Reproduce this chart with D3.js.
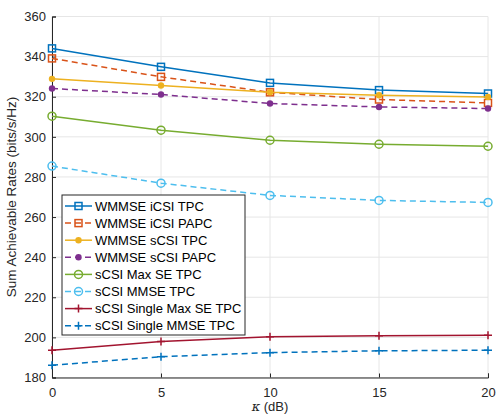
<!DOCTYPE html>
<html><head><meta charset="utf-8">
<script src="https://cdn.jsdelivr.net/npm/d3@7"></script>
<style>body{margin:0;background:#fff}svg{display:block}text{font-family:"Liberation Sans",Arial,sans-serif}</style>
</head><body>
<script>
const kappa = [0, 5, 10, 15, 20];
const seriesNames = ["WMMSE iCSI TPC","WMMSE iCSI PAPC","WMMSE sCSI TPC","WMMSE sCSI PAPC","sCSI Max SE TPC","sCSI MMSE TPC","sCSI Single Max SE TPC","sCSI Single MMSE TPC"];
const wmmseIcsiTpc  = [344.1, 334.9, 326.9, 323.3, 321.6];
const wmmseIcsiPapc = [339.1, 329.9, 322.2, 318.6, 316.9];
const wmmseScsiTpc  = [328.9, 325.6, 322.2, 320.7, 319.9];
const wmmseScsiPapc = [324.1, 321.1, 316.6, 314.9, 314.1];
const scsiMaxSeTpc  = [310.3, 303.3, 298.3, 296.3, 295.3];
const scsiMmseTpc   = [285.4, 276.9, 270.8, 268.3, 267.3];
const scsiSingleMaxSeTpc = [193.6, 197.9, 200.3, 200.8, 201.1];
const scsiSingleMmseTpc  = [186.1, 190.4, 192.4, 193.3, 193.6];
const xTicks = [0, 5, 10, 15, 20];
const yTicks = [180, 200, 220, 240, 260, 280, 300, 320, 340, 360];

const seriesValues = [wmmseIcsiTpc, wmmseIcsiPapc, wmmseScsiTpc, wmmseScsiPapc, scsiMaxSeTpc, scsiMmseTpc, scsiSingleMaxSeTpc, scsiSingleMmseTpc];
const styles = [
  {c:"#0072BD", dash:false, m:"sq"},
  {c:"#D95319", dash:true,  m:"sq"},
  {c:"#EDB120", dash:false, m:"dot"},
  {c:"#7E2F8E", dash:true,  m:"dot"},
  {c:"#77AC30", dash:false, m:"circ"},
  {c:"#4DBEEE", dash:true,  m:"circ"},
  {c:"#A2142F", dash:false, m:"plus"},
  {c:"#0072BD", dash:true,  m:"plus"}
];

const W = 497, H = 418;
const m = {l:52, r:9, t:16.5, b:40.5};
const svg = d3.select("body").append("svg").attr("width", W).attr("height", H);
const x = d3.scaleLinear().domain([0,20]).range([m.l, W - m.r]);
const y = d3.scaleLinear().domain([180,360]).range([H - m.b, m.t]);

// grid
const g = svg.append("g");
g.selectAll(".gx").data(xTicks).enter().append("line")
  .attr("x1", d=>x(d)).attr("x2", d=>x(d)).attr("y1", y(180)).attr("y2", y(360))
  .attr("stroke", "#e6e6e6").attr("stroke-width", 1);
g.selectAll(".gy").data(yTicks).enter().append("line")
  .attr("x1", x(0)).attr("x2", x(20)).attr("y1", d=>y(d)).attr("y2", d=>y(d))
  .attr("stroke", "#e6e6e6").attr("stroke-width", 1);

// axes
const xa = svg.append("g").attr("transform", `translate(0,${y(180)})`)
  .call(d3.axisBottom(x).tickValues(xTicks).tickSize(-4).tickPadding(10));
const ya = svg.append("g").attr("transform", `translate(${x(0)},0)`)
  .call(d3.axisLeft(y).tickValues(yTicks).tickSize(-4).tickPadding(6));
[xa, ya].forEach(a => {
  a.select(".domain").attr("stroke", "#262626").attr("stroke-width", 1);
  a.selectAll(".tick line").attr("stroke", "#262626");
  a.selectAll(".tick text").attr("fill", "#262626").style("font-size", "13px");
});

svg.append("text").attr("x", x(10)).attr("y", 411).attr("text-anchor", "middle")
  .style("font-size", "13px").attr("fill", "#262626")
  .html('<tspan font-style="italic" font-family="DejaVu Serif">κ</tspan> (dB)');
svg.append("text").attr("transform", `translate(16,${y(270)}) rotate(-90)`)
  .attr("text-anchor", "middle").style("font-size", "13.5px").attr("fill", "#262626")
  .text("Sum Achievable Rates (bits/s/Hz)");

function drawMarker(sel, st, cx, cy) {
  if (st.m === "sq") {
    sel.append("rect").attr("x", cx-3.5).attr("y", cy-3.5).attr("width", 7).attr("height", 7)
      .attr("fill", "none").attr("stroke", st.c).attr("stroke-width", 1.5);
  } else if (st.m === "dot") {
    sel.append("circle").attr("cx", cx).attr("cy", cy).attr("r", 3.2).attr("fill", st.c);
  } else if (st.m === "circ") {
    sel.append("circle").attr("cx", cx).attr("cy", cy).attr("r", 4).attr("fill", "none")
      .attr("stroke", st.c).attr("stroke-width", 1.5);
  } else {
    sel.append("path").attr("d", `M${cx-4},${cy}H${cx+4}M${cx},${cy-4}V${cy+4}`)
      .attr("stroke", st.c).attr("stroke-width", 1.5);
  }
}

const line = d3.line().x((d,i)=>x(kappa[i])).y(d=>y(d));
seriesValues.forEach((vals, si) => {
  const st = styles[si];
  const sg = svg.append("g");
  sg.append("path").attr("d", line(vals)).attr("fill", "none").attr("stroke", st.c)
    .attr("stroke-width", 1.5).attr("stroke-dasharray", st.dash ? "6,4" : null);
  vals.forEach((v,i) => drawMarker(sg, st, x(kappa[i]), y(v)));
});

// legend
const lg = svg.append("g");
lg.append("rect").attr("x", 62).attr("y", 195).attr("width", 183).attr("height", 140)
  .attr("fill", "#fff").attr("stroke", "#262626").attr("stroke-width", 1);
seriesNames.forEach((name, i) => {
  const st = styles[i];
  const cy = 206 + i*17.1;
  lg.append("line").attr("x1", 65).attr("x2", 92).attr("y1", cy).attr("y2", cy)
    .attr("stroke", st.c).attr("stroke-width", 1.5).attr("stroke-dasharray", st.dash ? "6,4" : null);
  drawMarker(lg, st, 78.5, cy);
  lg.append("text").attr("x", 95).attr("y", cy).attr("dy", "0.35em")
    .style("font-size", "13px").attr("fill", "#000").text(name);
});
</script>
</body></html>
